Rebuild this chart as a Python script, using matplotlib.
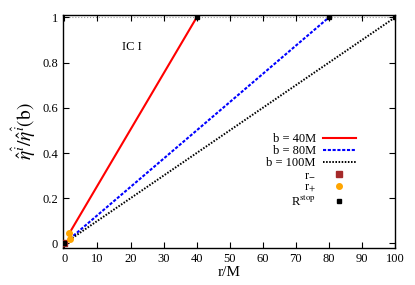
#!/usr/bin/env python3
import matplotlib
matplotlib.use('Agg')
import matplotlib.pyplot as plt

plt.rcParams['font.family'] = ['Liberation Serif', 'DejaVu Serif']
plt.rcParams['mathtext.fontset'] = 'stix'

# curves: r/M vs normalized eta
r_b40 = [1.5, 40]
eta_b40 = [0.045, 1.0]
r_b80 = [1.6, 80]
eta_b80 = [0.02, 1.0]
r_b100 = [1.6, 100]
eta_b100 = [0.016, 1.0]

r_minus_x = [0.0]
r_minus_y = [0.0]
r_plus_x = [1.5, 1.6]
r_plus_y = [0.045, 0.02]
rstop_x = [0.0, 40, 80, 100]
rstop_y = [0.0, 1.0, 1.0, 1.0]

xticks = [0, 10, 20, 30, 40, 50, 60, 70, 80, 90, 100]
yticks = [0, 0.2, 0.4, 0.6, 0.8, 1]

fig = plt.figure(figsize=(4.15, 2.85), dpi=100)
ax = fig.add_axes([0.152, 0.130, 0.800, 0.817])

ax.axhline(1.0, color='#999999', lw=0.8, ls=':', zorder=1)
ax.plot(r_b40, eta_b40, color='#ff0000', lw=1.5, label='b = 40M')
ax.plot(r_b80, eta_b80, color='#0000ff', lw=1.5, ls=(0, (1.5, 0.8)), label='b = 80M')
ax.plot(r_b100, eta_b100, color='black', lw=1.4, ls=(0, (0.8, 0.8)), label='b = 100M')
ax.plot(r_minus_x, r_minus_y, 's', color='#a52a2a', ms=5, label='r$_{-}$', zorder=4)
ax.plot(r_plus_x, r_plus_y, 'o', color='#ffa500', ms=4, label='r$_{+}$', zorder=4)
ax.plot(rstop_x, rstop_y, 's', color='black', ms=2.5, label='R$^{\\mathrm{stop}}$', zorder=5)

ax.text(20.5, 0.87, 'IC I', fontsize=9, ha='center', va='center')

ax.set_xlim(-0.4, 100)
ax.set_ylim(-0.02, 1.01)
ax.set_xticks(xticks)
ax.set_yticks(yticks)
ax.set_yticklabels(['0', '0.2', '0.4', '0.6', '0.8', '1'])
ax.tick_params(direction='in', top=True, right=True, labelsize=9, length=4, width=0.8)
for s in ax.spines.values():
    s.set_linewidth(1.0)

ax.set_xlabel('r/M', fontsize=11, labelpad=1)
ax.set_ylabel(r'$\hat{\eta}^{\hat{i}}/\hat{\eta}^{\hat{i}}(\mathrm{b})$', fontsize=14, labelpad=3)

ax.legend(loc='upper right', bbox_to_anchor=(0.9, 0.52), frameon=False, markerfirst=False,
          fontsize=9, handlelength=2.6, labelspacing=0.0, borderpad=0, handletextpad=0.6)

fig.savefig('out.png', dpi=100)
